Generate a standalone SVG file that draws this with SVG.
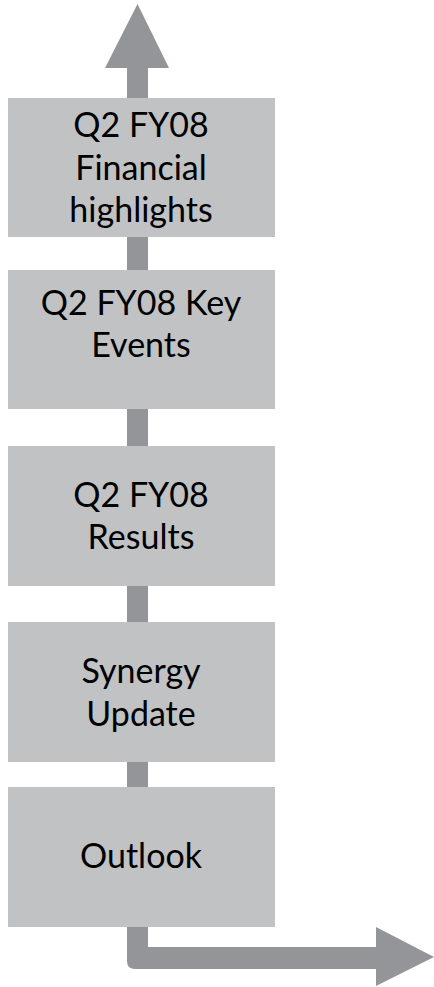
<svg xmlns="http://www.w3.org/2000/svg" width="434" height="987" viewBox="0 0 434 987">
<style>
.box{fill:#C1C2C4;}
.arrow{fill:#939598;}
text{font-family:Lato,"Liberation Sans",sans-serif;font-size:34px;fill:#000;text-anchor:middle;}
</style>
<rect width="434" height="987" fill="#fff"/>
<g id="connectors">
<path class="arrow" d="M127,68 L127,961 Q127,969 135,969 L376,969 L376,986 L434,957 L376,927 L376,947 L148,947 L148,68 L169,68 L137.5,4 L105,68 Z"/>
</g>
<g id="node-financial">
<rect class="box" x="8" y="98" width="267" height="139"/>
<text x="141" y="137">Q2 FY08</text>
<text x="141" y="180">Financial</text>
<text x="141" y="222">highlights</text>
</g>
<g id="node-key-events">
<rect class="box" x="8" y="270" width="267" height="139"/>
<text x="141" y="315">Q2 FY08 Key</text>
<text x="141" y="357">Events</text>
</g>
<g id="node-results">
<rect class="box" x="8" y="446" width="267" height="140"/>
<text x="141" y="507">Q2 FY08</text>
<text x="141" y="549">Results</text>
</g>
<g id="node-synergy">
<rect class="box" x="8" y="622" width="267" height="140"/>
<text x="141" y="683">Synergy</text>
<text x="141" y="726">Update</text>
</g>
<g id="node-outlook">
<rect class="box" x="8" y="787" width="267" height="140"/>
<text x="141" y="868">Outlook</text>
</g>
</svg>
